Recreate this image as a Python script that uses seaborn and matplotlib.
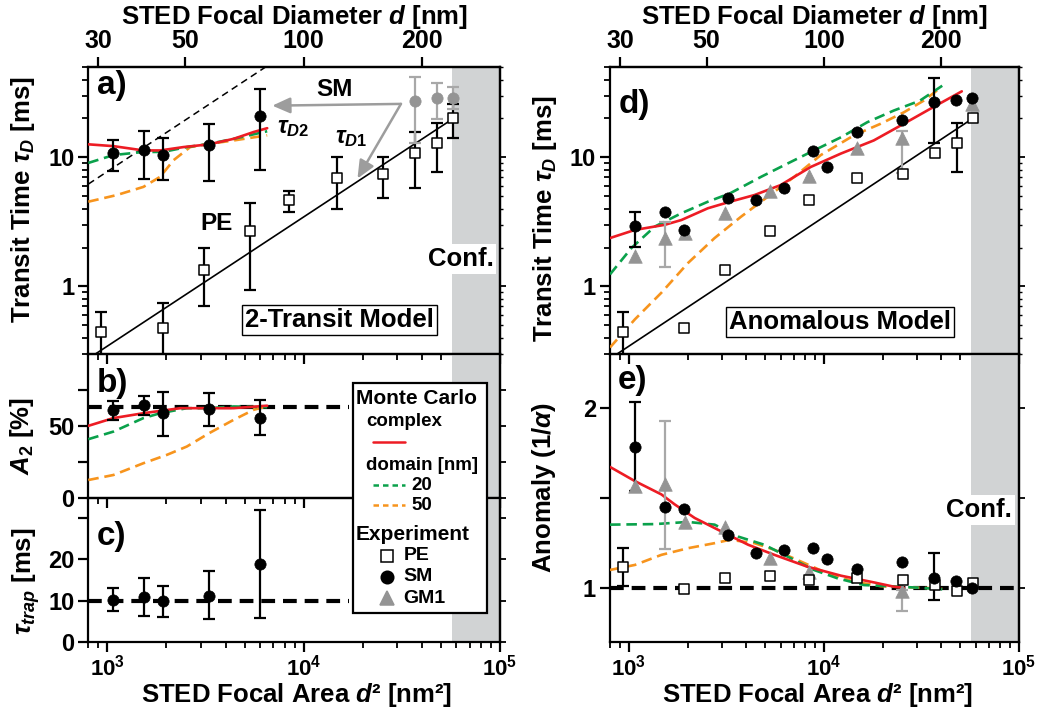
import numpy as np
import matplotlib
matplotlib.use("Agg")
import matplotlib.pyplot as plt
from matplotlib.ticker import (FixedLocator, NullFormatter, NullLocator,
                               FuncFormatter, LogLocator)
from matplotlib.lines import Line2D
from matplotlib.patches import Rectangle
import seaborn as sns

# ---------------------------------------------------------------- data
# PE (free diffusion): focal area [nm^2], transit time [ms], anomaly
pe_area = [930, 1925, 3115, 5310, 8420, 14780, 25400, 36900, 48000, 57900]
pe_tau = [0.448, 0.475, 1.33, 2.71, 4.64, 6.93, 7.48, 10.7, 13.0, 20.0]
pe_tau_lo = [0.26, 0.20, 0.71, 0.94, 3.76, 4.0, 4.86, 5.74, 7.7, 14.1]
pe_tau_hi = [0.638, 0.75, 1.97, 4.45, 5.48, 10.0, 10.0, 15.6, 18.4, 25.9]
pe_anom = [1.118, 0.993, 1.056, 1.065, 1.043, 1.056, 1.043, 1.015, 0.983, 1.024]
pe_anom_lo = [1.01]
pe_anom_hi = [1.22]
pe_err_idx_d = [0, 8]

# free-diffusion fit through PE and its counterpart for SM
pe_fit_area = [800, 57900]
pe_fit_tau = [0.276, 20.0]
sm_free_area = [800, 6400]
sm_free_tau = [6.2, 50.0]

# SM, two-transit model fit (panels a-c)
sm2_area = [1074, 1530, 1920, 3300, 6000]
sm2_tau2 = [10.7, 11.3, 10.5, 12.5, 20.9]
sm2_tau2_lo = [7.9, 6.8, 6.7, 6.6, 7.94]
sm2_tau2_hi = [13.5, 16.0, 14.2, 18.2, 33.7]
sm2_a2 = [61.2, 64.2, 58.8, 61.6, 55.8]
sm2_a2_lo = [54.2, 57.7, 43.2, 50.0, 43.7]
sm2_a2_hi = [67.0, 70.9, 73.9, 73.2, 68.1]
sm2_trap = [10.1, 10.9, 9.9, 11.1, 18.8]
sm2_trap_lo = [7.5, 6.3, 6.1, 5.4, 5.8]
sm2_trap_hi = [13.1, 15.4, 13.5, 17.1, 31.9]
a2_level = 63.0
trap_level = 10.0
level_area = [800, 17000]

# SM at large foci, one-component transit time
sm1_area = [36900, 48000, 57900]
sm1_tau = [27.4, 28.6, 28.7]
sm1_tau_lo = [12.9, 19.9, 23.7]
sm1_tau_hi = [41.5, 37.3, 34.7]

# SM, anomalous model (panels d, e)
sma_area = [1074, 1540, 1920, 3220, 4490, 6230, 8830, 10420, 14760, 25200,
            36800, 47600, 57300]
sma_tau = [2.94, 3.79, 2.74, 4.86, 4.67, 5.74, 11.2, 8.42, 15.8, 19.5,
           27.0, 27.9, 28.8]
sma_anom = [1.783, 1.449, 1.44, 1.295, 1.196, 1.211, 1.22, 1.158, 1.105,
            1.145, 1.056, 1.037, 1.0]
sma_err_idx = [0, 10]
sma_tau_lo = [2.02, 12.9]
sma_tau_hi = [3.79, 41.0]
sma_anom_lo = [1.537, 0.931]
sma_anom_hi = [2.035, 1.192]

# GM1, anomalous model
gm_area_d = [1074, 1540, 1933, 3115, 5310, 8410, 14760, 25200, 57300]
gm_tau = [1.71, 2.39, 2.59, 3.69, 5.47, 7.18, 11.8, 14.1, 25.9]
gm_err_idx_d = [1, 7]
gm_tau_lo = [1.41, 7.5]
gm_tau_hi = [3.18, 16.0]
gm_area_e = [1074, 1540, 1933, 3115, 5310, 8410, 25200]
gm_anom = [1.565, 1.578, 1.366, 1.338, 1.164, 1.09, 0.981]
gm_err_idx_e = [1, 6]
gm_anom_lo = [1.214, 0.87]
gm_anom_hi = [1.929, 0.99]

# Monte Carlo curves: complex (red), 20 nm domains (green), 50 nm (orange)
mc_a_cx_area = [800, 1074, 1527, 1860, 2445, 3300, 4400, 5570, 6520]
mc_a_cx = [12.6, 12.2, 11.3, 11.3, 12.0, 12.6, 13.9, 15.7, 16.8]
mc_a_d20_area = [800, 1074, 1527, 1924, 2540, 3300, 4400, 6520]
mc_a_d20 = [9.04, 10.4, 11.0, 11.0, 12.0, 12.7, 13.9, 15.9]
mc_a_d50_area = [800, 1117, 1527, 1860, 2175, 2643, 3300, 4400, 6520]
mc_a_d50 = [4.53, 5.1, 5.9, 7.07, 9.5, 12.0, 12.7, 13.5, 14.8]

mc_b_cx_area = [800, 1074, 1527, 2350, 3300, 4400, 6520]
mc_b_cx = [50.0, 55.4, 58.8, 62.3, 62.3, 62.3, 64.0]
mc_b_d20_area = [800, 1074, 1527, 1860, 2540, 3300, 4400, 6520]
mc_b_d20 = [40.7, 46.0, 55.4, 58.8, 62.3, 62.3, 63.5, 63.0]
mc_b_d50_area = [800, 1074, 1527, 2010, 2540, 3300, 4400, 5570, 6300]
mc_b_d50 = [12.3, 15.8, 24.0, 29.8, 35.6, 44.9, 54.2, 61.2, 63.0]

mc_d_cx_area = [800, 1074, 1527, 1860, 2540, 3300, 4400, 5990, 8560, 12240,
                18000, 25700, 36600, 50900]
mc_d_cx = [2.37, 2.74, 3.0, 3.27, 4.03, 4.53, 5.1, 6.09, 8.42, 10.7, 13.5,
           18.2, 24.6, 32.4]
mc_d_d20_area = [800, 1032, 1358, 1860, 2540, 3300, 4770, 6520, 8890, 12240,
                 16700, 22800, 31000, 40400]
mc_d_d20 = [1.24, 1.99, 2.91, 3.69, 4.53, 5.26, 7.07, 8.96, 11.3, 14.3, 18.7,
            23.0, 27.4, 35.8]
mc_d_d50_area = [800, 1074, 1468, 2010, 2750, 3760, 5160, 7050, 9630, 14260,
                 19560, 25700, 32400, 38800]
mc_d_d50 = [0.337, 0.557, 0.895, 1.52, 2.37, 3.47, 4.96, 7.07, 10.4, 14.8,
            18.2, 22.3, 27.4, 33.7]

mc_e_cx_area = [800, 1074, 1468, 1720, 2175, 2980, 4090, 5570, 8230, 12240,
                18000, 22800, 25700]
mc_e_cx = [1.672, 1.593, 1.519, 1.463, 1.388, 1.313, 1.239, 1.183, 1.117,
           1.067, 1.03, 1.006, 1.0]
mc_e_d20_area = [800, 1358, 2010, 2750, 3620, 4950, 6520, 8890, 11770, 16040,
                 21100, 31000, 40400]
mc_e_d20 = [1.351, 1.354, 1.366, 1.351, 1.285, 1.239, 1.173, 1.099, 1.052,
            1.015, 1.009, 1.0, 0.991]
mc_e_d50_area = [800, 1074, 1468, 2010, 2750, 3300, 4400, 5570, 7650, 10420,
                 14260, 19560, 31000, 40400]
mc_e_d50 = [1.099, 1.127, 1.183, 1.22, 1.248, 1.267, 1.248, 1.211, 1.145,
            1.08, 1.034, 1.009, 1.0, 0.996]

conf_start = 5.7e4
area_lim = (800, 1e5)
diam_ticks = [30, 50, 100, 200]

# ---------------------------------------------------------------- style
RED = "#ed1c24"
GREEN = "#0aa14b"
ORANGE = "#f7941d"
GRAY = "#949494"
GRAY_ERR = "#a8a8a8"
SHADE = "#d1d3d4"

sns.set_theme(style="ticks", rc={
    "axes.edgecolor": "black", "xtick.color": "black", "ytick.color": "black",
    "text.color": "black", "axes.labelcolor": "black",
})
plt.rcParams.update({
    "font.family": ["Liberation Sans", "DejaVu Sans"],
    "font.weight": "bold",
    "axes.labelweight": "bold",
    "axes.linewidth": 1.6,
    "mathtext.fontset": "custom",
    "mathtext.rm": "Liberation Sans:bold",
    "mathtext.it": "Liberation Sans:italic:bold",
    "mathtext.bf": "Liberation Sans:bold",
    "mathtext.sf": "Liberation Sans:bold",
})

W, H = 1047, 717
fig = plt.figure(figsize=(W / 100, H / 100), dpi=100)


def fx(p):
    return p / W


def fy(p):
    return 1 - p / H


TOP, AB, BC, BOT = 67, 354, 497.7, 641.7
L0, LW = fx(88.3), fx(411.7)
R0, RW = fx(610), fx(409)
ax_a = fig.add_axes([L0, fy(AB), LW, fy(TOP) - fy(AB)])
ax_b = fig.add_axes([L0, fy(BC), LW, fy(AB) - fy(BC)])
ax_c = fig.add_axes([L0, fy(BOT), LW, fy(BC) - fy(BOT)])
ax_d = fig.add_axes([R0, fy(AB), RW, fy(TOP) - fy(AB)])
ax_e = fig.add_axes([R0, fy(BOT), RW, fy(AB) - fy(BOT)])
axes = [ax_a, ax_b, ax_c, ax_d, ax_e]

LAB = 18.5
TICK = 17


def curve(ax, x, y, color, dashed=False, lw=1.9):
    kw = dict(linestyle=(0, (4.0, 2.2))) if dashed else {}
    sns.lineplot(x=x, y=y, ax=ax, color=color, lw=lw, sort=False,
                 estimator=None, legend=False, zorder=3, **kw)


def ebar(ax, x, y, lo, hi, color="black", idx=None):
    x, y = np.asarray(x, float), np.asarray(y, float)
    if idx is not None:
        x, y = x[idx], y[idx]
    lo, hi = np.asarray(lo, float), np.asarray(hi, float)
    ax.errorbar(x, y, yerr=[y - lo, hi - y], fmt="none", ecolor=color,
                elinewidth=1.6, capsize=4.6, capthick=1.6, zorder=4)


def squares(ax, x, y):
    sns.scatterplot(x=x, y=y, ax=ax, marker="s", s=62, color="white",
                    edgecolor="black", linewidth=1.1, zorder=6, legend=False)


def circles(ax, x, y, color="black"):
    sns.scatterplot(x=x, y=y, ax=ax, marker="o", s=66, color=color,
                    edgecolor=color, linewidth=0.5, zorder=7, legend=False)


def triangles(ax, x, y):
    sns.scatterplot(x=x, y=y, ax=ax, marker="^", s=95, color=GRAY,
                    edgecolor=GRAY, linewidth=0.5, zorder=5, legend=False)


def level(ax, x, yval):
    sns.lineplot(x=x, y=[yval] * len(x), ax=ax, color="black", lw=3.0,
                 linestyle=(0, (3.3, 1.9)), legend=False, zorder=2)


def ylabel(ax, text, xc, yc):
    ax.set_ylabel(text, fontsize=LAB)
    ax.yaxis.label.set_va("center")
    ax.yaxis.set_label_coords(xc, yc)


# ---------------------------------------------------------------- a) two-transit
ax = ax_a
ax.set_xscale("log")
ax.set_yscale("log")
sns.lineplot(x=sm_free_area, y=sm_free_tau, ax=ax, color="black", lw=1.1,
             linestyle=(0, (4.5, 3.0)), legend=False, zorder=2)
sns.lineplot(x=pe_fit_area, y=pe_fit_tau, ax=ax, color="black", lw=1.2,
             legend=False, zorder=2)
curve(ax, mc_a_d50_area, mc_a_d50, ORANGE, dashed=True)
curve(ax, mc_a_d20_area, mc_a_d20, GREEN, dashed=True)
curve(ax, mc_a_cx_area, mc_a_cx, RED)
ebar(ax, pe_area, pe_tau, pe_tau_lo, pe_tau_hi)
ebar(ax, sm2_area, sm2_tau2, sm2_tau2_lo, sm2_tau2_hi)
ebar(ax, sm1_area, sm1_tau, sm1_tau_lo, sm1_tau_hi, color=GRAY_ERR)
squares(ax, pe_area, pe_tau)
circles(ax, sm2_area, sm2_tau2)
circles(ax, sm1_area, sm1_tau, color=GRAY)
ax.set_ylim(0.3, 50)
ax.set_yticks([1, 10], labels=["1", "10"])
ylabel(ax, r"Transit Time $\tau_{\mathit{D}}$ [ms]", -0.158, 0.537)
# gray arrows from the SM label to both transit times
arrow = dict(arrowstyle="-|>,head_length=0.9,head_width=0.4", color="#9d9d9d",
             lw=1.8, shrinkA=0, shrinkB=0)
ax.annotate("", xy=(6920, 25.1), xytext=(31300, 25.9), arrowprops=arrow,
            zorder=8)
ax.annotate("", xy=(18800, 6.85), xytext=(31300, 25.9), arrowprops=arrow,
            zorder=8)
ax.text(0.599, 0.923, "SM", transform=ax.transAxes, ha="center", va="center",
        fontsize=17.5)
ax.text(0.311, 0.453, "PE", transform=ax.transAxes, ha="center", va="center",
        fontsize=17.5)
ax.text(0.458, 0.77, r"$\tau_{\mathit{D2}}$", transform=ax.transAxes,
        ha="left", va="baseline", fontsize=17)
ax.text(0.599, 0.735, r"$\tau_{\mathit{D1}}$", transform=ax.transAxes,
        ha="left", va="baseline", fontsize=17)
ax.text(0.611, 0.118, "2-Transit Model", transform=ax.transAxes, ha="center",
        va="center", fontsize=LAB, zorder=9,
        bbox=dict(boxstyle="square,pad=0.12", fc="white", ec="black", lw=1.0))
ax.text(0.904, 0.331, "Conf.", transform=ax.transAxes, ha="center",
        va="center", fontsize=LAB, zorder=9,
        bbox=dict(boxstyle="square,pad=0.1", fc="white", ec="none"))

# ---------------------------------------------------------------- b) A2
ax = ax_b
ax.set_xscale("log")
level(ax, level_area, a2_level)
curve(ax, mc_b_d50_area, mc_b_d50, ORANGE, dashed=True)
curve(ax, mc_b_d20_area, mc_b_d20, GREEN, dashed=True)
curve(ax, mc_b_cx_area, mc_b_cx, RED)
ebar(ax, sm2_area, sm2_a2, sm2_a2_lo, sm2_a2_hi)
circles(ax, sm2_area, sm2_a2)
ax.set_ylim(0, 100)
ax.set_yticks([0, 25, 50, 75], labels=["0", "", "50", ""])
ylabel(ax, r"$\mathit{A}_{2}$ [%]", -0.161, 0.429)

# ---------------------------------------------------------------- c) trap time
ax = ax_c
ax.set_xscale("log")
level(ax, level_area, trap_level)
ebar(ax, sm2_area, sm2_trap, sm2_trap_lo, sm2_trap_hi)
circles(ax, sm2_area, sm2_trap)
ax.set_ylim(0, 35)
ax.set_yticks([0, 10, 20, 30], labels=["0", "10", "20", ""])
ylabel(ax, r"$\tau_{\mathit{trap}}$ [ms]", -0.152, 0.42)

# ---------------------------------------------------------------- d) anomalous
ax = ax_d
ax.set_xscale("log")
ax.set_yscale("log")
sns.lineplot(x=pe_fit_area, y=pe_fit_tau, ax=ax, color="black", lw=1.2,
             legend=False, zorder=2)
curve(ax, mc_d_d50_area, mc_d_d50, ORANGE, dashed=True)
curve(ax, mc_d_d20_area, mc_d_d20, GREEN, dashed=True)
curve(ax, mc_d_cx_area, mc_d_cx, RED)
ebar(ax, pe_area, pe_tau, np.asarray(pe_tau_lo)[pe_err_idx_d],
     np.asarray(pe_tau_hi)[pe_err_idx_d], idx=pe_err_idx_d)
ebar(ax, sma_area, sma_tau, sma_tau_lo, sma_tau_hi, idx=sma_err_idx)
ebar(ax, gm_area_d, gm_tau, gm_tau_lo, gm_tau_hi, color=GRAY_ERR,
     idx=gm_err_idx_d)
squares(ax, pe_area, pe_tau)
triangles(ax, gm_area_d, gm_tau)
circles(ax, sma_area, sma_tau)
ax.set_ylim(0.3, 50)
ax.set_yticks([1, 10], labels=["1", "10"])
ylabel(ax, r"Transit Time $\tau_{\mathit{D}}$ [ms]", -0.159, 0.47)
ax.text(0.562, 0.111, "Anomalous Model", transform=ax.transAxes, ha="center",
        va="center", fontsize=LAB, zorder=9,
        bbox=dict(boxstyle="square,pad=0.12", fc="white", ec="black", lw=1.0))

# ---------------------------------------------------------------- e) anomaly
ax = ax_e
ax.set_xscale("log")
level(ax, list(area_lim), 1.0)
curve(ax, mc_e_d50_area, mc_e_d50, ORANGE, dashed=True)
curve(ax, mc_e_d20_area, mc_e_d20, GREEN, dashed=True)
curve(ax, mc_e_cx_area, mc_e_cx, RED)
ebar(ax, pe_area, pe_anom, pe_anom_lo, pe_anom_hi, idx=[0])
ebar(ax, sma_area, sma_anom, sma_anom_lo, sma_anom_hi, idx=sma_err_idx)
ebar(ax, gm_area_e, gm_anom, gm_anom_lo, gm_anom_hi, color=GRAY_ERR,
     idx=gm_err_idx_e)
squares(ax, pe_area, pe_anom)
triangles(ax, gm_area_e, gm_anom)
circles(ax, sma_area, sma_anom)
ax.set_ylim(0.7, 2.3)
ax.set_yticks([1, 1.5, 2], labels=["1", "", "2"])
ylabel(ax, r"Anomaly (1/$\alpha$)", -0.161, 0.538)
ax.text(0.903, 0.458, "Conf.", transform=ax.transAxes, ha="center",
        va="center", fontsize=LAB, zorder=9,
        bbox=dict(boxstyle="square,pad=0.1", fc="white", ec="none"))

# ---------------------------------------------------------------- common axes
pow_fmt = FuncFormatter(lambda v, p: r"$\mathbf{10^{%d}}$" % round(np.log10(v)))
panel_pos = {ax_a: (0.021, 0.934, "a)"), ax_b: (0.021, 0.798, "b)"),
             ax_c: (0.021, 0.734, "c)"), ax_d: (0.02, 0.871, "d)"),
             ax_e: (0.02, 0.909, "e)")}
for ax in axes:
    ax.patch.set_facecolor("none")
    ax.set_xlim(*area_lim)
    ax.axvspan(conf_start, area_lim[1], color=SHADE, lw=0, zorder=0)
    ax.xaxis.set_major_locator(FixedLocator([1e3, 1e4, 1e5]))
    ax.xaxis.set_minor_locator(LogLocator(base=10, subs=np.arange(2, 10)))
    ax.xaxis.set_minor_formatter(NullFormatter())
    ax.yaxis.set_minor_formatter(NullFormatter())
    ax.tick_params(axis="both", which="major", length=7, width=1.6,
                   direction="out", labelsize=TICK, pad=3)
    ax.tick_params(axis="both", which="minor", length=4, width=1.3,
                   direction="out")
    ax.set_xlabel("")
    if ax in (ax_c, ax_e):
        ax.xaxis.set_major_formatter(pow_fmt)
        ax.tick_params(axis="x", labelsize=16, pad=2.5)
        # bottom axis title, centred under the panel column
        pos = ax.get_position()
        fig.text(pos.x0 + 0.507 * pos.width, fy(695),
                 r"STED Focal Area $\mathit{d}$² [nm²]", fontsize=LAB,
                 ha="center", va="center")
    else:
        ax.tick_params(axis="x", labelbottom=False)
    # short outward ticks on the right edge
    sec = ax.secondary_yaxis("right")
    if ax.get_yscale() == "log":
        sec.set_yticks([1, 10])
        sec.yaxis.set_minor_locator(LogLocator(base=10, subs=np.arange(2, 10)))
    else:
        sec.set_yticks(ax.get_yticks())
    sec.tick_params(which="major", length=4, width=1.3, direction="out",
                    labelright=False)
    sec.tick_params(which="minor", length=2.5, width=1.0, direction="out",
                    labelright=False)
    tx, ty, lab = panel_pos[ax]
    ax.text(tx, ty, lab, transform=ax.transAxes, ha="left", va="center",
            fontsize=24, zorder=9)

for ax in (ax_a, ax_d):
    top = ax.secondary_xaxis("top", functions=(np.sqrt, np.square))
    top.set_xticks(diam_ticks, labels=[str(v) for v in diam_ticks])
    top.xaxis.set_minor_locator(NullLocator())
    top.tick_params(direction="out", length=7, width=1.6, labelsize=18, pad=3)
    top.set_xlabel(r"STED Focal Diameter $\mathit{d}$ [nm]", fontsize=LAB,
                   labelpad=4)

# ---------------------------------------------------------------- legend
lx0, ly0, lx1, ly1 = 352.7, 383.3, 486.7, 613.3
fig.add_artist(Rectangle((fx(lx0), fy(ly1)), fx(lx1 - lx0), (ly1 - ly0) / H,
                         transform=fig.transFigure, fc="white", ec="black",
                         lw=1.6, zorder=20))


def ltext(px, py, s, size):
    fig.text(fx(px), fy(py), s, ha="left", va="center", fontsize=size,
             zorder=21)


def lline(py, color, dashed):
    ls = (0, (2.2, 1.6)) if dashed else "-"
    fig.add_artist(Line2D([fx(372.7), fx(405)], [fy(py), fy(py)], color=color,
                          lw=1.8, linestyle=ls, transform=fig.transFigure,
                          zorder=21))


def lmark(py, marker, fc, ec, size):
    fig.add_artist(Line2D([fx(386.7)], [fy(py)], marker=marker, ms=size,
                          mfc=fc, mec=ec, mew=1.1, linestyle="none",
                          transform=fig.transFigure, zorder=21))


ltext(355.5, 399, "Monte Carlo", 15)
ltext(366, 421.7, "complex", 13.5)
lline(441.7, RED, False)
ltext(366, 465, "domain [nm]", 13.5)
lline(485, GREEN, True)
ltext(411.7, 485, "20", 13.5)
lline(505, ORANGE, True)
ltext(411.7, 505, "50", 13.5)
ltext(355.5, 535, "Experiment", 15)
lmark(556, "s", "white", "black", 8)
ltext(403.3, 556, "PE", 14)
lmark(576.7, "o", "black", "black", 9)
ltext(403.3, 576.7, "SM", 14)
lmark(598.3, "^", GRAY, GRAY, 10.5)
ltext(403.3, 598.3, "GM1", 14)

fig.savefig("out.png", dpi=100)
